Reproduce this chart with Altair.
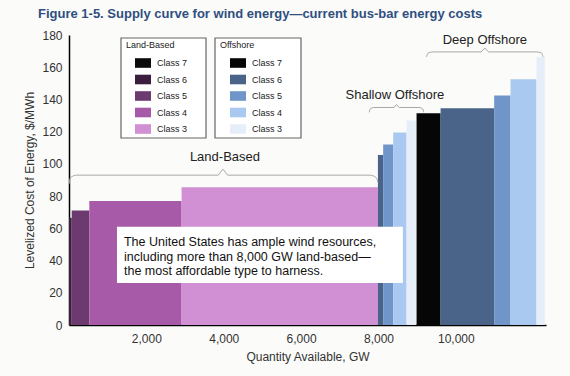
import altair as alt
import pandas as pd

# ---------------- data ----------------
classes = ["Class 7", "Class 6", "Class 5", "Class 4", "Class 3"]
land_colors = ["#0b0b0b", "#3b1e3d", "#6c3a6f", "#a65aa8", "#d290d4"]
off_colors = ["#060606", "#4a6489", "#7095c9", "#a9c9f1", "#e6eff9"]

land_class = ["Class 6", "Class 5", "Class 4", "Class 3"]
land_start = [0, 70, 525, 2910]
land_end = [70, 525, 2910, 7985]
land_cost = [66.5, 71, 77, 85.5]

off_class = ["Class 6", "Class 5", "Class 4", "Class 3",
             "Class 7", "Class 6", "Class 5", "Class 4", "Class 3"]
off_start = [7985, 8121, 8380, 8726, 8984, 9605, 10990, 11413, 12085]
off_end = [8121, 8380, 8726, 8966, 9605, 10990, 11413, 12085, 12300]
off_cost = [105.5, 112, 119.5, 127, 131.5, 134.5, 142.5, 152.5, 166.5]

x_ticks = [2000, 4000, 6000, 8000, 10000]
y_ticks = [0, 20, 40, 60, 80, 100, 120, 140, 160, 180]

# braces (annotation shapes, in GW / $ units)
brace_land_x = [0, 40, 200, 3850, 3980, 4110, 7780, 7940, 7985]
brace_land_y = [87.5, 91.5, 93, 93, 96.5, 93, 93, 91.5, 88.5]
brace_shal_x = [7760, 7790, 7880, 8400, 8468, 8536, 9050, 9140, 9173]
brace_shal_y = [132, 134.2, 135, 135, 136.8, 135, 135, 134.2, 132]
brace_deep_x = [9240, 9280, 9420, 10650, 10750, 10850, 12080, 12215, 12255]
brace_deep_y = [166.5, 168.8, 169.5, 169.5, 171.8, 169.5, 169.5, 168.8, 166.5]

group_labels = ["Land-Based", "Shallow Offshore", "Deep Offshore"]
group_label_x = [4031, 8424, 10750]
group_label_y = [104, 142.5, 177]

note_lines = ["The United States has ample wind resources,",
              "including more than 8,000 GW land-based\u2014",
              "the most affordable type to harness."]
note_line_y = [51.7, 42.4, 33.5]
note_x = 1421
note_box = {"x": 1240, "x2": 8630, "y": 26, "y2": 61}

title_text = "Figure 1-5. Supply curve for wind energy\u2014current bus-bar energy costs"

FONT = "Liberation Sans"

# ---------------- tables ----------------
df_land = pd.DataFrame({"cls": land_class, "start": land_start, "end": land_end, "cost": land_cost})
df_off = pd.DataFrame({"cls": off_class, "start": off_start, "end": off_end, "cost": off_cost})
df_brace = pd.concat([
    pd.DataFrame({"b": "land", "gx": brace_land_x, "gy": brace_land_y}),
    pd.DataFrame({"b": "shal", "gx": brace_shal_x, "gy": brace_shal_y}),
    pd.DataFrame({"b": "deep", "gx": brace_deep_x, "gy": brace_deep_y}),
])
df_brace["o"] = range(len(df_brace))
df_glab = pd.DataFrame({"t": group_labels, "gx": group_label_x, "gy": group_label_y})
df_note = pd.DataFrame({"t": note_lines, "gy": note_line_y, "gx": [note_x] * 3})
one = pd.DataFrame({"k": [0]})

xscale = alt.Scale(domain=[0, 12330], nice=False, zero=False)
yscale = alt.Scale(domain=[0, 180], nice=False)

xaxis = alt.Axis(values=x_ticks, format=",.0f", grid=False, ticks=False, domainColor="#000",
                 domainWidth=1.5, labelPadding=8, labelFontSize=12, labelColor="#333",
                 title="Quantity Available, GW", titleFontSize=12, titleFontWeight="normal",
                 titleColor="#333", titlePadding=7, labelFont=FONT, titleFont=FONT)
yaxis = alt.Axis(values=y_ticks, format=".0f", grid=False, ticks=False, domainColor="#000",
                 domainWidth=1.5, labelPadding=7, labelFontSize=12, labelColor="#333",
                 title="Levelized Cost of Energy, $/MWh", titleFontSize=12,
                 titleFontWeight="normal", titleColor="#333", titlePadding=5,
                 labelFont=FONT, titleFont=FONT)


def X(f):
    return alt.X(f, scale=xscale, axis=xaxis, title="Quantity Available, GW")


def Y(f):
    return alt.Y(f, scale=yscale, axis=yaxis, title="Levelized Cost of Energy, $/MWh")


def legend(title, lx, off):
    return alt.Legend(title=title, orient="none", legendX=lx, legendY=6,
                      titleFontSize=9, titleFontWeight="normal", titleColor="#222",
                      titleFont=FONT, labelFont=FONT, titlePadding=5,
                      labelFontSize=9, labelColor="#222",
                      symbolType="M-1,-0.6H1V0.6H-1Z", symbolSize=256,
                      symbolStrokeWidth=0, symbolOpacity=1, symbolOffset=off,
                      labelOffset=6, rowPadding=3.5, padding=0, values=classes)


land = alt.Chart(df_land).mark_rect().encode(
    x=X("start:Q"), x2="end:Q", y=Y("cost:Q"), y2=alt.datum(0),
    color=alt.Color("cls:N", scale=alt.Scale(domain=classes, range=land_colors),
                    legend=legend("Land-Based", 57, 9)),
)
off = alt.Chart(df_off).mark_rect().encode(
    x=X("start:Q"), x2="end:Q", y=Y("cost:Q"), y2=alt.datum(0),
    color=alt.Color("cls:N", scale=alt.Scale(domain=classes, range=off_colors),
                    legend=legend("Offshore", 151, 10)),
)

braces = alt.Chart(df_brace).mark_line(color="#a8a8a8", strokeWidth=1, interpolate="monotone").encode(
    x=X("gx:Q"), y=Y("gy:Q"), detail="b:N", order="o:Q")

glabels = alt.Chart(df_glab).mark_text(fontSize=13, font=FONT, color="#222").encode(
    x=X("gx:Q"), y=Y("gy:Q"), text="t:N")

note_rect = alt.Chart(one).mark_rect(fill="white").encode(
    x=alt.datum(note_box["x"], scale=xscale, axis=xaxis, title="Quantity Available, GW"),
    x2=alt.datum(note_box["x2"]),
    y=alt.datum(note_box["y"], scale=yscale, axis=yaxis, title="Levelized Cost of Energy, $/MWh"),
    y2=alt.datum(note_box["y2"]))

note_text = alt.Chart(df_note).mark_text(fontSize=12.5, font=FONT, color="#111", align="left").encode(
    x=X("gx:Q"), y=Y("gy:Q"), text="t:N")

box1 = alt.Chart(one).mark_rect(fill="white", stroke="#666", strokeWidth=1.2).encode(
    x=alt.value(52), x2=alt.value(137), y=alt.value(3), y2=alt.value(103))
box2 = alt.Chart(one).mark_rect(fill="white", stroke="#666", strokeWidth=1.2).encode(
    x=alt.value(146), x2=alt.value(232), y=alt.value(3), y2=alt.value(103))

title = alt.Chart(one).mark_text(fontSize=13, fontWeight="bold", font=FONT, color="#2f4f80",
                                 align="left", baseline="middle").encode(
    x=alt.value(-31), y=alt.value(-21), text=alt.value(title_text))

chart = alt.layer(land, off, braces, glabels, note_rect, note_text, box1, box2, title).resolve_scale(
    color="independent"
).properties(
    width=477, height=290,
    autosize=alt.AutoSizeParams(type="none"),
    padding={"left": 69, "top": 35, "right": 24, "bottom": 51},
    background="#fbfbf9",
).configure_view(stroke=None)

chart.save("out.html", embed_options={"renderer": "svg", "actions": False})
